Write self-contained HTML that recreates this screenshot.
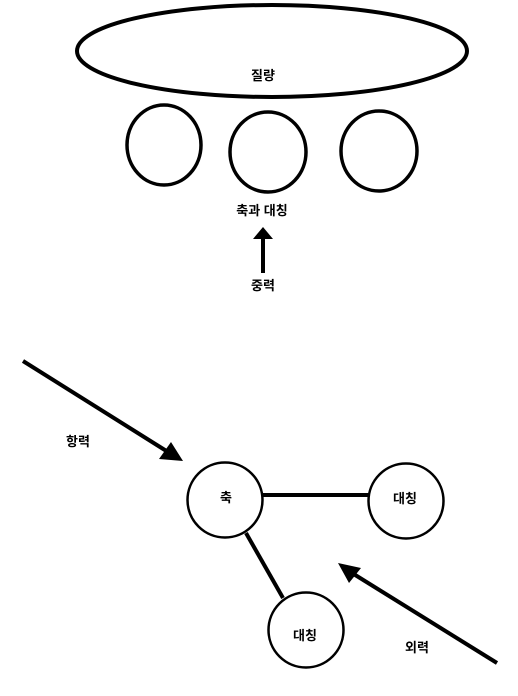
<!DOCTYPE html>
<html><head><meta charset="utf-8"><style>
html,body{margin:0;padding:0;background:#fff;}
svg{display:block;}
text{font-family:"Liberation Sans","Noto Sans CJK KR","NanumGothic",sans-serif;font-size:13px;font-weight:bold;fill:#000;text-anchor:middle;}
</style></head><body>
<svg width="518" height="696" viewBox="0 0 518 696" xmlns="http://www.w3.org/2000/svg">
<g fill="none" stroke="#000" stroke-width="4">
<ellipse cx="272" cy="51" rx="195" ry="46"/>
<ellipse cx="164" cy="145" rx="37" ry="40" stroke-width="3.5"/>
<ellipse cx="268" cy="152" rx="38" ry="40" stroke-width="3.5"/>
<ellipse cx="379" cy="151" rx="38" ry="40" stroke-width="3.5"/>
<line x1="263" y1="273" x2="263" y2="236"/>
<circle cx="225" cy="500" r="37.5" stroke-width="2.5"/>
<circle cx="406" cy="501" r="37.5" stroke-width="2.5"/>
<circle cx="306" cy="630" r="37.5" stroke-width="2.5"/>
<line x1="263" y1="495" x2="369" y2="495"/>
<line x1="246" y1="533" x2="283" y2="598"/>
<line x1="23" y1="361" x2="168" y2="452"/>
<line x1="497" y1="663" x2="352" y2="573"/>
</g>
<polygon points="263,227 253,239 273,239" fill="#000"/>
<polygon points="183,461 159,459 171,442" fill="#000"/>
<polygon points="338,563 349,583 361,568" fill="#000"/>
<text x="263" y="80">질량</text>
<text x="262" y="215">축과 대칭</text>
<text x="263" y="290">중력</text>
<text x="78" y="446">항력</text>
<text x="226" y="502">축</text>
<text x="405" y="503">대칭</text>
<text x="305" y="640">대칭</text>
<text x="417" y="652">외력</text>
</svg>
</body></html>
